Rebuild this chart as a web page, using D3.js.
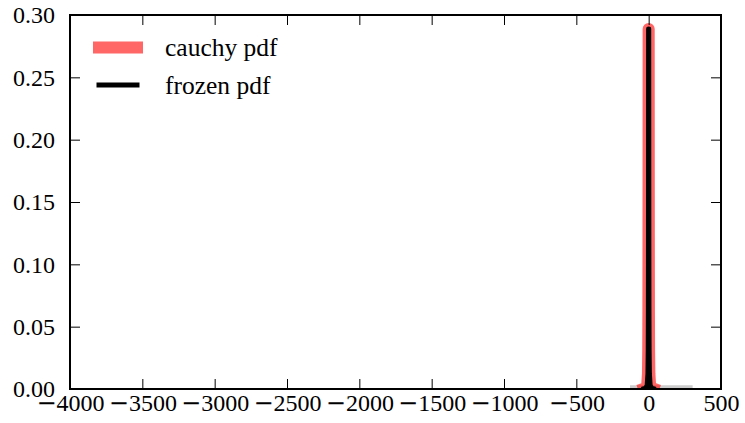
<!DOCTYPE html>
<html>
<head>
<meta charset="utf-8">
<script src="https://cdn.jsdelivr.net/npm/d3@7"></script>
<style>
  html, body { margin: 0; padding: 0; background: #fff; }
  svg { display: block; }
  text { font-family: "Liberation Serif", "Times New Roman", serif; fill: #000; }
</style>
</head>
<body>
<svg id="chart" width="745" height="423"></svg>
<script>
// ---- data ----
const xDomain = [-4000, 500];
const yDomain = [0, 0.30];
const xTicks = [-4000, -3500, -3000, -2500, -2000, -1500, -1000, -500, 0, 500];
const yTicks = [0.00, 0.05, 0.10, 0.15, 0.20, 0.25, 0.30];

const pdfX = [-31.82, -20, -10, -5, -3, -2, -1.29, -0.96, -0.64, -0.32,
              0.32, 0.64, 0.96, 1.29, 2, 3, 5, 10, 20, 31.82];
const cauchyPdf = [0.000314, 0.000794, 0.00315, 0.01224, 0.03183, 0.06366, 0.1195, 0.1657, 0.2258, 0.2887,
                   0.2887, 0.2258, 0.1657, 0.1195, 0.06366, 0.03183, 0.01224, 0.00315, 0.000794, 0.000314];
const frozenPdf = [0.000314, 0.000794, 0.00315, 0.01224, 0.03183, 0.06366, 0.1195, 0.1657, 0.2258, 0.2887,
                   0.2887, 0.2258, 0.1657, 0.1195, 0.06366, 0.03183, 0.01224, 0.00315, 0.000794, 0.000314];

const histEdges = [-129, 304];
const histDensity = [0.0030];

const legendLabels = ["cauchy pdf", "frozen pdf"];

// ---- layout ----
const L = 70, R = 721, T = 15, B = 389;
const svg = d3.select("#chart");
const x = d3.scaleLinear().domain(xDomain).range([L, R]);
const y = d3.scaleLinear().domain(yDomain).range([B, T]);

svg.append("defs").append("clipPath").attr("id", "clip")
  .append("rect").attr("x", L).attr("y", T).attr("width", R - L).attr("height", B - T);

const plot = svg.append("g").attr("clip-path", "url(#clip)");

// histogram (stepfilled)
const histPts = [[histEdges[0], 0]];
histDensity.forEach((d, i) => {
  histPts.push([histEdges[i], d]);
  histPts.push([histEdges[i + 1], d]);
});
histPts.push([histEdges[histEdges.length - 1], 0]);
plot.append("path")
  .attr("d", d3.line().x(d => x(d[0])).y(d => y(d[1]))(histPts) + "Z")
  .attr("fill", "#000").attr("fill-opacity", 0.2).attr("stroke", "none");

const line = d3.line().x(d => x(d[0])).y(d => y(d[1]));
plot.append("path")
  .attr("d", line(pdfX.map((v, i) => [v, cauchyPdf[i]])))
  .attr("fill", "none").attr("stroke", "red").attr("stroke-opacity", 0.6)
  .attr("stroke-width", 12).attr("stroke-linejoin", "round").attr("stroke-linecap", "square");
plot.append("path")
  .attr("d", line(pdfX.map((v, i) => [v, frozenPdf[i]])))
  .attr("fill", "none").attr("stroke", "#000")
  .attr("stroke-width", 5).attr("stroke-linejoin", "round").attr("stroke-linecap", "square");

// axes
const fs = 24;
const xAxisB = d3.axisBottom(x).tickValues(xTicks).tickSizeInner(-10).tickSizeOuter(0).tickPadding(5)
  .tickFormat(d => String(Math.abs(d)));
const xAxisT = d3.axisTop(x).tickValues(xTicks).tickSizeInner(-10).tickSizeOuter(0).tickFormat("");
const yAxisL = d3.axisLeft(y).tickValues(yTicks).tickSizeInner(-10).tickSizeOuter(0).tickPadding(15)
  .tickFormat(d3.format(".2f"));
const yAxisR = d3.axisRight(y).tickValues(yTicks).tickSizeInner(-10).tickSizeOuter(0).tickFormat("");

function style(g) {
  g.select(".domain").remove();
  g.selectAll(".tick line").attr("stroke", "#000").attr("stroke-width", 1);
  g.selectAll(".tick text").attr("font-size", fs).attr("font-family", "Liberation Serif, serif").attr("fill", "#000");
}
const gxb = svg.append("g").attr("transform", `translate(0,${B})`).call(xAxisB).call(style);
// long minus signs for negative labels
gxb.selectAll(".tick text").each(function(d) {
  if (d < 0) {
    const t = d3.select(this);
    const digits = String(Math.abs(d));
    t.text(null);
    t.append("tspan").attr("font-family", "DejaVu Sans, sans-serif").attr("font-size", fs).text("\u2212");
    t.append("tspan").text(digits);
  }
});
svg.append("g").attr("transform", `translate(0,${T})`).call(xAxisT).call(style);
svg.append("g").attr("transform", `translate(${L},0)`).call(yAxisL).call(style);
svg.append("g").attr("transform", `translate(${R},0)`).call(yAxisR).call(style);

// spines
svg.append("rect").attr("x", L).attr("y", T).attr("width", R - L).attr("height", B - T)
  .attr("fill", "none").attr("stroke", "#000").attr("stroke-width", 2);

// legend
const leg = svg.append("g");
const legStyles = [
  {stroke: "red", opacity: 0.6, width: 12},
  {stroke: "#000", opacity: 1, width: 5}
];
legendLabels.forEach((lab, i) => {
  const cy = 47.5 + i * 37.5;
  leg.append("line").attr("x1", 99).attr("x2", 137).attr("y1", cy).attr("y2", cy)
    .attr("stroke", legStyles[i].stroke).attr("stroke-opacity", legStyles[i].opacity)
    .attr("stroke-width", legStyles[i].width).attr("stroke-linecap", "square");
  leg.append("text").attr("x", 165).attr("y", cy + 8.5).attr("font-size", 25.5).text(lab);
});
</script>
</body>
</html>
